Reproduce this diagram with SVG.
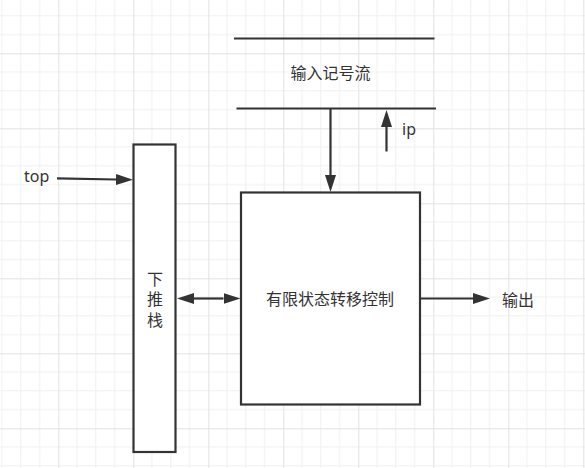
<svg xmlns="http://www.w3.org/2000/svg" width="585" height="468" viewBox="0 0 585 468">
<style>
.t{font-family:"Noto Sans","Noto Sans CJK SC",sans-serif;font-size:16px;fill:#333}
.c{font-family:"Noto Sans CJK SC","Noto Sans",sans-serif;font-size:16px;fill:#333}
.v{font-family:"Noto Sans CJK SC",sans-serif;font-size:16px;fill:#333;writing-mode:vertical-rl;letter-spacing:4.5px}
.box{fill:#fff;stroke:#333;stroke-width:2.2}
.ln{stroke:#333;stroke-width:2.2;fill:none}
</style>
<defs>
<pattern id="grid" patternUnits="userSpaceOnUse" x="58.3" y="53.3" width="75" height="75">
<path d="M18.75 0V75M37.5 0V75M56.25 0V75M0 18.75H75M0 37.5H75M0 56.25H75" stroke="#f0f0f0" stroke-width="1" fill="none"/>
<path d="M0.5 0V75M0 0.5H75" stroke="#e2e2e2" stroke-width="1" fill="none"/>
</pattern>
<marker id="ah" markerUnits="userSpaceOnUse" markerWidth="18" markerHeight="12" refX="0" refY="5.5" orient="auto-start-reverse">
<path d="M0,0 L17,5.5 L0,11 Z" fill="#333"/>
</marker>
</defs>
<rect width="585" height="468" fill="#fff"/>
<rect width="585" height="468" fill="url(#grid)"/>

<g id="input-stream">
<line class="ln" x1="234" y1="38.5" x2="434.5" y2="38.5"/>
<line class="ln" x1="236.5" y1="108.5" x2="436" y2="108.5"/>
<text class="c" x="330.5" y="79" text-anchor="middle">输入记号流</text>
</g>

<g id="stack">
<rect class="box" x="133.5" y="144.5" width="42" height="307.5"/>
<text class="v" x="155" y="270.5">下推栈</text>
</g>

<g id="control">
<rect class="box" x="241" y="192.5" width="179" height="212"/>
<text class="c" x="330" y="305" text-anchor="middle">有限状态转移控制</text>
</g>

<g id="labels">
<text class="t" x="24" y="182">top</text>
<text class="t" x="402" y="135">ip</text>
<text class="c" x="502" y="305.5">输出</text>
</g>

<g id="connectors">
<line class="ln" x1="57" y1="178.3" x2="116" y2="179.5" marker-end="url(#ah)"/>
<line class="ln" x1="330.5" y1="108.5" x2="330.5" y2="175" marker-end="url(#ah)"/>
<line class="ln" x1="386.5" y1="151.5" x2="386.5" y2="127" marker-end="url(#ah)"/>
<line class="ln" x1="194" y1="298.5" x2="223.5" y2="298.5" marker-start="url(#ah)" marker-end="url(#ah)"/>
<line class="ln" x1="421" y1="298.5" x2="473" y2="298.5" marker-end="url(#ah)"/>
</g>
</svg>
